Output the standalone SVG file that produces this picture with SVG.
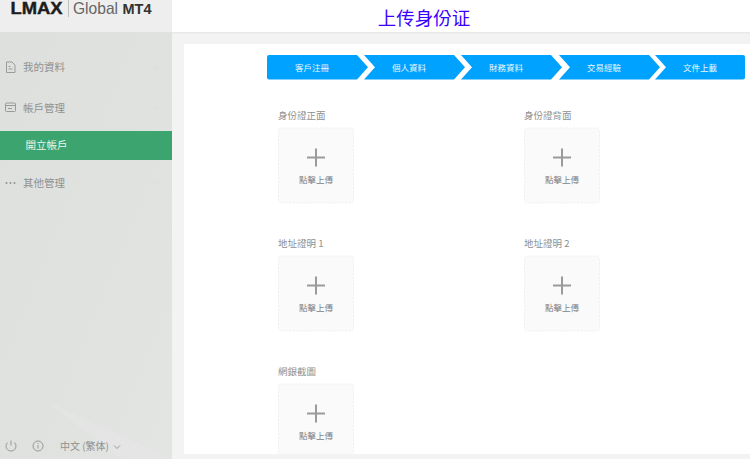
<svg xmlns="http://www.w3.org/2000/svg" width="750" height="459" viewBox="0 0 750 459">
<defs>
<linearGradient id="side" x1="0" y1="0" x2="1" y2="1"><stop offset="0" stop-color="#dee0de"/><stop offset="0.6" stop-color="#e0e2e0"/><stop offset="1" stop-color="#e3e5e3"/></linearGradient>
<g id="upload">
<rect x="0.500" y="0.500" width="75" height="75" rx="3" fill="#fafafa" stroke="#efefef" stroke-dasharray="2 1.500"/>
<path d="M38 21V39M29 30H47" stroke="#9a9a9a" stroke-width="2" fill="none"/>
<text x="38" y="55.500" text-anchor="middle" class="up">點擊上傳</text>
</g>
<path id="chev" d="M0 0H90L101 12.200 90 24.500H0L11 12.200Z" fill="#00a2ff"/>
</defs>
<style>
text{font-family:"Noto Sans CJK TC","Noto Sans CJK SC","Liberation Sans",sans-serif}
.menu{font-size:10.500px;fill:#8f9191}
.lab{font-size:9.500px;fill:#8f8f8f}
.up{font-size:8.500px;fill:#808080}
.step{font-size:8.500px;fill:#e8f6ff;text-anchor:middle}
.ic{fill:none;stroke:#999b9b;stroke-width:1}
.chv{fill:none;stroke:#d8dad8;stroke-width:0.800}
</style>
<rect width="750" height="459" fill="#f3f3f3"/>
<g id="header">
<rect x="172" width="578" height="32" fill="#fff"/>
<rect x="172" y="32" width="578" height="1.500" fill="#e8e8e8"/>
<rect width="172" height="32" fill="#eeeeee"/>
<text x="10.500" y="14" font-size="16" font-weight="700" style="font-family:'Liberation Sans',sans-serif" fill="#1c1c1c" stroke="#1c1c1c" stroke-width="0.400" textLength="52" lengthAdjust="spacingAndGlyphs">LMAX</text>
<rect x="68" y="0" width="0.800" height="17" fill="#b5b5b5"/>
<text x="73" y="14" font-size="16.500" style="font-family:'Liberation Sans',sans-serif" fill="#666" textLength="45" lengthAdjust="spacingAndGlyphs">Global</text>
<text x="122.500" y="14" font-size="15.500" font-weight="700" style="font-family:'Liberation Sans',sans-serif" fill="#333" textLength="29" lengthAdjust="spacingAndGlyphs">MT4</text>
<text x="424" y="24.500" font-size="18.500" text-anchor="middle" fill="#3a00ff">上传身份证</text>
</g>
<g id="sidebar">
<rect y="32" width="172" height="427" fill="url(#side)"/>
<path d="M45 400L120 459H172V459L45 400Z" fill="#e5e6e5" opacity="0.500"/>
<g id="menu-profile">
<path class="ic" d="M6.500 62H12L15 65V72.500H6.500ZM8.500 69H12.500M8.500 66.500H10.500"/>
<text class="menu" x="23" y="71">我的資料</text>
<path class="chv" d="M153 66l2.500 2.500 2.500-2.500"/>
</g>
<g id="menu-account">
<rect class="ic" x="5.500" y="103" width="10" height="8.500" rx="1"/><path class="ic" d="M5.500 105.500H15.500M8 108.500H12"/>
<text class="menu" x="23" y="111.500">帳戶管理</text>
<path class="chv" d="M153 107l2.500 2.500 2.500-2.500"/>
</g>
<g id="menu-open">
<rect y="131" width="172" height="29" fill="#3ba46f"/>
<text x="25.500" y="149" font-size="10.500" fill="#eaf6ef">開立帳戶</text>
</g>
<g id="menu-other">
<circle cx="6.500" cy="183" r="1" fill="#8f9191"/><circle cx="10.500" cy="183" r="1" fill="#8f9191"/><circle cx="14.500" cy="183" r="1" fill="#8f9191"/>
<text class="menu" x="23" y="187">其他管理</text>
<path class="chv" d="M153 182l2.500 2.500 2.500-2.500"/>
</g>
<g id="footer">
<path class="ic" d="M7.500 442.500a5 5 0 1 0 7 0M11 440.500v5"/>
<circle class="ic" cx="38" cy="446" r="5"/><path class="ic" d="M38 445v3.500M38 443v1"/>
<text x="60" y="450" font-size="10" fill="#8f9191">中文 (繁体)</text>
<path class="ic" d="M114 445.500l3 3 3-3"/>
</g>
</g>
<g id="content">
<rect x="184" y="44" width="566" height="410" fill="#fff"/>
</g>
<g id="steps">
<path d="M269 55H357L368 67.200 357 79.500H269a2 2 0 0 1-2-2V57a2 2 0 0 1 2-2Z" fill="#00a2ff"/>
<use href="#chev" x="364" y="55"/>
<use href="#chev" x="461" y="55"/>
<use href="#chev" x="559" y="55"/>
<path d="M655 55H743a2 2 0 0 1 2 2V77.500a2 2 0 0 1-2 2H655L666 67.200Z" fill="#00a2ff"/>
<text class="step" x="312" y="71">客戶注冊</text>
<text class="step" x="409" y="71">個人資料</text>
<text class="step" x="506" y="71">財務資料</text>
<text class="step" x="604" y="71">交易經驗</text>
<text class="step" x="700" y="71">文件上載</text>
</g>
<g id="id-front"><text class="lab" x="278" y="118.500">身份證正面</text><use href="#upload" x="278" y="127.500"/></g>
<g id="id-back"><text class="lab" x="524" y="118.500">身份證背面</text><use href="#upload" x="524" y="127.500"/></g>
<g id="addr-1"><text class="lab" x="278" y="246.500">地址證明 1</text><use href="#upload" x="278" y="255.500"/></g>
<g id="addr-2"><text class="lab" x="524" y="246.500">地址證明 2</text><use href="#upload" x="524" y="255.500"/></g>
<g id="bank"><text class="lab" x="278" y="374.500">網銀截圖</text><use href="#upload" x="278" y="383.500"/></g>
<rect x="184" y="454" width="566" height="5" fill="#f3f3f3"/>
</svg>
